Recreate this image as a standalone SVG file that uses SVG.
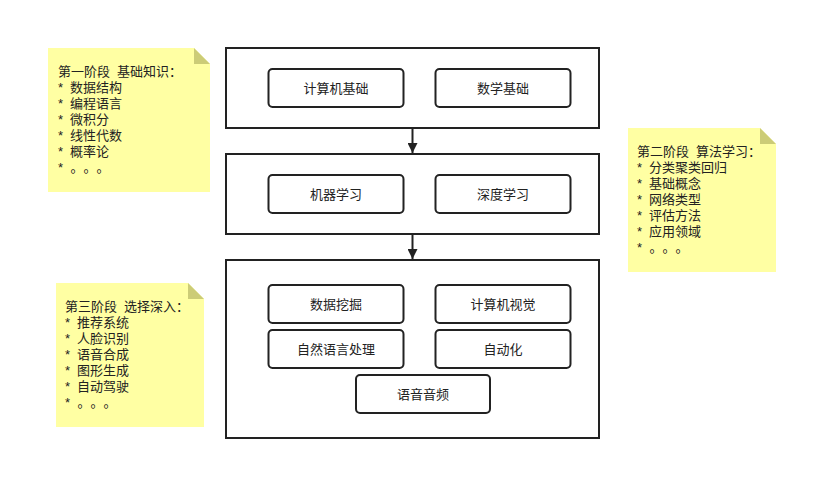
<svg xmlns="http://www.w3.org/2000/svg" width="838" height="499" viewBox="0 0 838 499">
<style>
.bg{fill:#ffffff}
.stage{fill:#ffffff;stroke:#222;stroke-width:2}
.item{fill:#ffffff;stroke:#222;stroke-width:2}
.note{fill:#ffffa3}
.fold{fill:#cccc77}
text{font-family:"Liberation Sans","Noto Sans CJK SC",sans-serif;font-size:13px;fill:#222}
.cjk{font-family:"Noto Sans CJK SC",sans-serif}
.c{text-anchor:middle;dominant-baseline:central}
.conn{stroke:#222;stroke-width:2;fill:none}
</style>
<defs>
<marker id="arr" viewBox="0 0 10 10" refX="10" refY="5" markerWidth="5" markerHeight="5" orient="auto" markerUnits="strokeWidth">
<path d="M0,0 L10,5 L0,10 z" fill="#222"/>
</marker>
</defs>
<rect class="bg" x="0" y="0" width="838" height="499"/>

<g id="note1">
<polygon class="note" points="48,48 194,48 210,64 210,192 48,192"/>
<polygon class="fold" points="194,48 194,64 210,64"/>
<text y="76"><tspan x="58">第一阶段</tspan><tspan x="117">基础知识</tspan><tspan class="cjk">：</tspan></text>
<text y="92"><tspan x="58">*</tspan><tspan x="70">数据结构</tspan></text>
<text y="108"><tspan x="58">*</tspan><tspan x="70">编程语言</tspan></text>
<text y="124"><tspan x="58">*</tspan><tspan x="70">微积分</tspan></text>
<text y="140"><tspan x="58">*</tspan><tspan x="70">线性代数</tspan></text>
<text y="156"><tspan x="58">*</tspan><tspan x="70">概率论</tspan></text>
<text y="172"><tspan x="58">*</tspan><tspan class="cjk" x="70.5">。</tspan><tspan class="cjk" x="83.5">。</tspan><tspan class="cjk" x="96.5">。</tspan></text>
</g>

<g id="note2">
<polygon class="note" points="628,128 760,128 776,144 776,272 628,272"/>
<polygon class="fold" points="760,128 760,144 776,144"/>
<text y="156"><tspan x="637">第二阶段</tspan><tspan x="696">算法学习</tspan><tspan class="cjk">：</tspan></text>
<text y="172"><tspan x="637">*</tspan><tspan x="649">分类聚类回归</tspan></text>
<text y="188"><tspan x="637">*</tspan><tspan x="649">基础概念</tspan></text>
<text y="204"><tspan x="637">*</tspan><tspan x="649">网络类型</tspan></text>
<text y="220"><tspan x="637">*</tspan><tspan x="649">评估方法</tspan></text>
<text y="236"><tspan x="637">*</tspan><tspan x="649">应用领域</tspan></text>
<text y="252"><tspan x="637">*</tspan><tspan class="cjk" x="649.5">。</tspan><tspan class="cjk" x="662.5">。</tspan><tspan class="cjk" x="675.5">。</tspan></text>
</g>

<g id="note3">
<polygon class="note" points="56,283 188,283 204,299 204,427 56,427"/>
<polygon class="fold" points="188,283 188,299 204,299"/>
<text y="311"><tspan x="65">第三阶段</tspan><tspan x="124">选择深入</tspan><tspan class="cjk">：</tspan></text>
<text y="327"><tspan x="65">*</tspan><tspan x="77">推荐系统</tspan></text>
<text y="343"><tspan x="65">*</tspan><tspan x="77">人脸识别</tspan></text>
<text y="359"><tspan x="65">*</tspan><tspan x="77">语音合成</tspan></text>
<text y="375"><tspan x="65">*</tspan><tspan x="77">图形生成</tspan></text>
<text y="391"><tspan x="65">*</tspan><tspan x="77">自动驾驶</tspan></text>
<text y="407"><tspan x="65">*</tspan><tspan class="cjk" x="77.5">。</tspan><tspan class="cjk" x="90.5">。</tspan><tspan class="cjk" x="103.5">。</tspan></text>
</g>

<g id="stage1">
<rect class="stage" x="226" y="48" width="373" height="80"/>
</g>
<g id="n-jsjjc">
<rect class="item" x="268.5" y="69" width="135" height="38" rx="4"/>
<text class="c" x="336" y="88">计算机基础</text>
</g>
<g id="n-sxjc">
<rect class="item" x="435.5" y="69" width="135" height="38" rx="4"/>
<text class="c" x="503" y="88">数学基础</text>
</g>

<g id="stage2">
<rect class="stage" x="226" y="154" width="373" height="80"/>
</g>
<g id="n-jqxx">
<rect class="item" x="268.5" y="175" width="135" height="38" rx="4"/>
<text class="c" x="336" y="194">机器学习</text>
</g>
<g id="n-sdxx">
<rect class="item" x="435.5" y="175" width="135" height="38" rx="4"/>
<text class="c" x="503" y="194">深度学习</text>
</g>

<g id="stage3">
<rect class="stage" x="226" y="260" width="373" height="178"/>
</g>
<g id="n-sjwj">
<rect class="item" x="268.5" y="285" width="135" height="38" rx="4"/>
<text class="c" x="336" y="304">数据挖掘</text>
</g>
<g id="n-jsjsj">
<rect class="item" x="435.5" y="285" width="135" height="38" rx="4"/>
<text class="c" x="503" y="304">计算机视觉</text>
</g>
<g id="n-zryy">
<rect class="item" x="268.5" y="330" width="135" height="38" rx="4"/>
<text class="c" x="336" y="349">自然语言处理</text>
</g>
<g id="n-zdh">
<rect class="item" x="435.5" y="330" width="135" height="38" rx="4"/>
<text class="c" x="503" y="349">自动化</text>
</g>
<g id="n-yyyp">
<rect class="item" x="356" y="375" width="134" height="38" rx="4"/>
<text class="c" x="423" y="394">语音音频</text>
</g>

<g id="connectors">
<line class="conn" x1="412.5" y1="129" x2="412.5" y2="153" marker-end="url(#arr)"/>
<line class="conn" x1="412.5" y1="235" x2="412.5" y2="259" marker-end="url(#arr)"/>
</g>
</svg>
